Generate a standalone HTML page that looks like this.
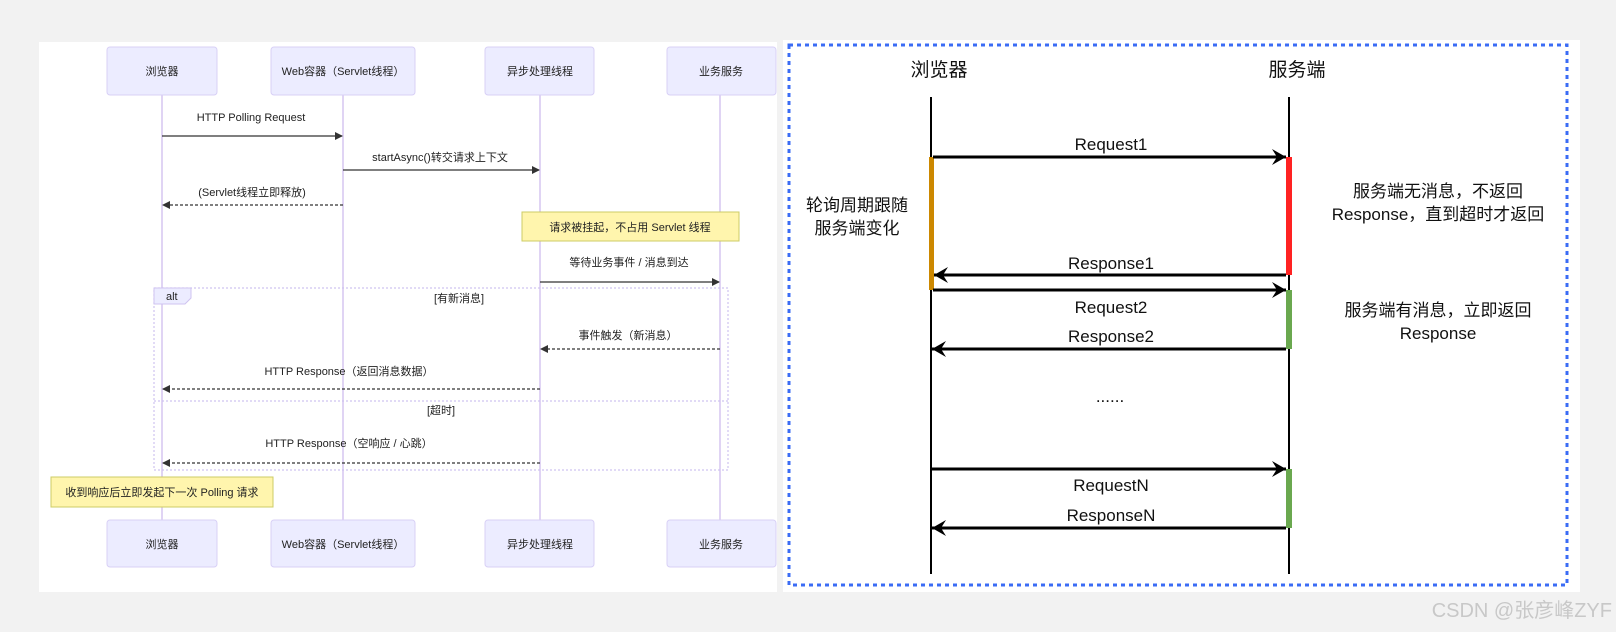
<!DOCTYPE html>
<html><head><meta charset="utf-8"><style>
html,body{margin:0;padding:0;background:#f2f2f2;}
svg{display:block;font-family:"Liberation Sans","Noto Sans CJK SC",sans-serif;}
</style></head><body>
<svg width="1616" height="632" viewBox="0 0 1616 632" xmlns="http://www.w3.org/2000/svg">
<defs>
<marker id="a" markerWidth="8" markerHeight="8" refX="7" refY="4" orient="auto" markerUnits="userSpaceOnUse"><path d="M0,0 L8,4 L0,8 z" fill="#333"/></marker>
<marker id="b" markerWidth="16" markerHeight="16" refX="14" refY="8" orient="auto" markerUnits="userSpaceOnUse"><path d="M0,0 L14,8 L0,16 L5,8 z" fill="#000"/></marker>
</defs>
<rect x="0" y="0" width="1616" height="632" fill="#f2f2f2"/>
<rect x="39" y="42" width="738" height="550" fill="#fff"/>
<rect x="783" y="40" width="797" height="552" fill="#fff"/>

<!-- LEFT: sequence diagram -->
<g stroke="#d5c6f0" stroke-width="1.5">
<line x1="162" y1="95" x2="162" y2="520"/>
<line x1="343" y1="95" x2="343" y2="520"/>
<line x1="540" y1="95" x2="540" y2="520"/>
<line x1="720" y1="95" x2="720" y2="520"/>
</g>
<g fill="#ececff" stroke="#d8d0f6" stroke-width="1">
<rect x="107" y="47" width="110" height="48" rx="3"/>
<rect x="271" y="47" width="144" height="48" rx="3"/>
<rect x="485" y="47" width="109" height="48" rx="3"/>
<rect x="667" y="47" width="109" height="48" rx="3"/>
<rect x="107" y="520" width="110" height="47" rx="3"/>
<rect x="271" y="520" width="144" height="47" rx="3"/>
<rect x="485" y="520" width="109" height="47" rx="3"/>
<rect x="667" y="520" width="109" height="47" rx="3"/>
</g>
<g font-size="11" fill="#222" text-anchor="middle">
<text x="162" y="75">浏览器</text>
<text x="343" y="75">Web容器（Servlet线程）</text>
<text x="540" y="75">异步处理线程</text>
<text x="721" y="75">业务服务</text>
<text x="162" y="548">浏览器</text>
<text x="343" y="548">Web容器（Servlet线程）</text>
<text x="540" y="548">异步处理线程</text>
<text x="721" y="548">业务服务</text>

<text x="251" y="121">HTTP Polling Request</text>
<text x="440" y="161">startAsync()转交请求上下文</text>
<text x="252" y="196">(Servlet线程立即释放)</text>
<text x="629" y="266">等待业务事件 / 消息到达</text>
<text x="459" y="302">[有新消息]</text>
<text x="628" y="339">事件触发（新消息）</text>
<text x="349" y="375">HTTP Response（返回消息数据）</text>
<text x="441" y="414">[超时]</text>
<text x="349" y="447">HTTP Response（空响应 / 心跳）</text>
</g>
<g stroke="#333" stroke-width="1.3" fill="none">
<line x1="162" y1="136" x2="342" y2="136" marker-end="url(#a)"/>
<line x1="343" y1="170" x2="539" y2="170" marker-end="url(#a)"/>
<line x1="343" y1="205" x2="163" y2="205" stroke-dasharray="3,2" marker-end="url(#a)"/>
<line x1="540" y1="282" x2="719" y2="282" marker-end="url(#a)"/>
<line x1="720" y1="349" x2="541" y2="349" stroke-dasharray="3,2" marker-end="url(#a)"/>
<line x1="540" y1="389" x2="163" y2="389" stroke-dasharray="3,2" marker-end="url(#a)"/>
<line x1="540" y1="463" x2="163" y2="463" stroke-dasharray="3,2" marker-end="url(#a)"/>
</g>
<!-- alt -->
<rect x="154" y="288" width="574" height="182" fill="none" stroke="#cfc3f0" stroke-width="1.2" stroke-dasharray="2,2"/>
<line x1="154" y1="401" x2="728" y2="401" stroke="#cfc3f0" stroke-width="1.2" stroke-dasharray="2,2"/>
<path d="M154,288 L191,288 L191,298 L185,304 L154,304 z" fill="#ececff" stroke="#cfc3f0"/>
<text x="166" y="300" font-size="11" fill="#222">alt</text>
<!-- notes -->
<rect x="522" y="212" width="217" height="29" fill="#fff5ad" stroke="#cccc66"/>
<text x="630" y="231" font-size="11" text-anchor="middle" fill="#222">请求被挂起，不占用 Servlet 线程</text>
<rect x="51" y="477" width="222" height="30" fill="#fff5ad" stroke="#cccc66"/>
<text x="162" y="496" font-size="11" text-anchor="middle" fill="#222">收到响应后立即发起下一次 Polling 请求</text>

<!-- RIGHT -->
<rect x="789" y="45" width="778" height="540" fill="#fff" stroke="#3b6cf5" stroke-width="3" stroke-dasharray="4,4"/>
<g font-size="19" fill="#111" text-anchor="middle">
<text x="939" y="76">浏览器</text>
<text x="1297" y="76">服务端</text>
</g>
<g stroke="#000" stroke-width="2">
<line x1="931" y1="97" x2="931" y2="574"/>
<line x1="1289" y1="97" x2="1289" y2="574"/>
</g>
<rect x="929" y="157" width="5" height="133" fill="#cc8800"/>
<rect x="1286" y="157" width="6" height="118" fill="#ff2222"/>
<rect x="1286" y="290" width="6" height="59" fill="#6aa84f"/>
<rect x="1286" y="469" width="6" height="59" fill="#6aa84f"/>
<g stroke="#000" stroke-width="3" fill="none">
<line x1="933" y1="157" x2="1286" y2="157" marker-end="url(#b)"/>
<line x1="1286" y1="275" x2="934" y2="275" marker-end="url(#b)"/>
<line x1="933" y1="290" x2="1286" y2="290" marker-end="url(#b)"/>
<line x1="1286" y1="349" x2="932" y2="349" marker-end="url(#b)"/>
<line x1="932" y1="469" x2="1286" y2="469" marker-end="url(#b)"/>
<line x1="1286" y1="528" x2="932" y2="528" marker-end="url(#b)"/>
</g>
<g font-size="17" fill="#111" text-anchor="middle">
<text x="1111" y="150">Request1</text>
<text x="1111" y="269">Response1</text>
<text x="1111" y="313">Request2</text>
<text x="1111" y="342">Response2</text>
<text x="1110" y="402">......</text>
<text x="1111" y="491">RequestN</text>
<text x="1111" y="521">ResponseN</text>
<text x="857" y="211">轮询周期跟随</text>
<text x="857" y="234">服务端变化</text>
<text x="1438" y="197">服务端无消息，不返回</text>
<text x="1438" y="220">Response，直到超时才返回</text>
<text x="1438" y="316">服务端有消息，立即返回</text>
<text x="1438" y="339">Response</text>
</g>
<text x="1612" y="617" font-size="20" fill="#c8c8c8" text-anchor="end">CSDN @张彦峰ZYF</text>
</svg>
</body></html>
